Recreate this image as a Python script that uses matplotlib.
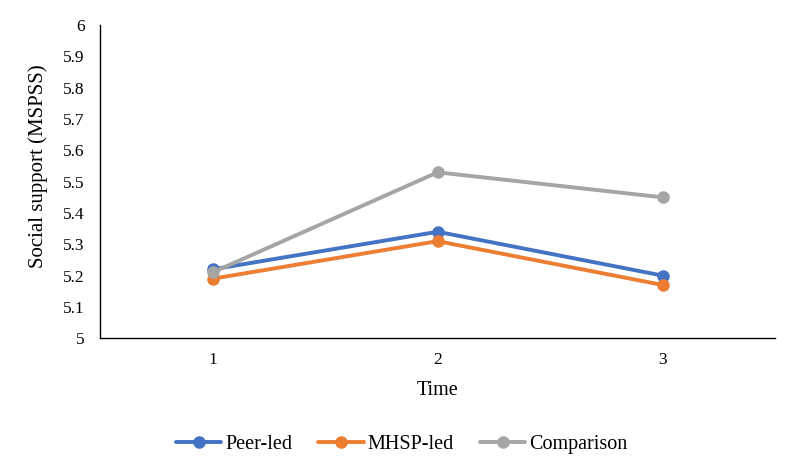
import matplotlib
matplotlib.use("Agg")
import matplotlib.pyplot as plt
import numpy as np

times = [1, 2, 3]
peer_led = [5.22, 5.34, 5.20]
mhsp_led = [5.19, 5.31, 5.17]
comparison = [5.21, 5.53, 5.45]
yticks = [5, 5.1, 5.2, 5.3, 5.4, 5.5, 5.6, 5.7, 5.8, 5.9, 6]
ytick_labels = ["5", "5.1", "5.2", "5.3", "5.4", "5.5", "5.6", "5.7", "5.8", "5.9", "6"]

plt.rcParams["font.family"] = ["Liberation Serif", "DejaVu Serif"]

fig = plt.figure(figsize=(8, 4.75), dpi=100)
ax = fig.add_axes([0.125, 0.288, 0.844, 0.659])

series = [
    ("Peer-led", peer_led, "#4472C4"),
    ("MHSP-led", mhsp_led, "#ED7D31"),
    ("Comparison", comparison, "#A5A5A5"),
]
for name, vals, col in series:
    ax.plot(times, vals, color=col, lw=2.8, marker="o", markersize=8,
            solid_capstyle="round", label=name)

ax.set_xlim(0.5, 3.5)
ax.set_ylim(5, 6)
ax.set_xticks(times)
ax.set_xticklabels([str(t) for t in times])
ax.set_yticks(yticks)
ax.set_yticklabels(ytick_labels)
ax.tick_params(length=0, labelsize=12.5, colors="#000000", pad=11)
ax.tick_params(axis="x", pad=10)

for side in ["top", "right"]:
    ax.spines[side].set_visible(False)
for side in ["left", "bottom"]:
    ax.spines[side].set_color("#000000")
    ax.spines[side].set_linewidth(1.0)

ax.set_xlabel("Time", fontsize=14.5, labelpad=9)
ax.set_ylabel("Social support (MSPSS)", fontsize=15)
ax.yaxis.set_label_coords(-0.077, 0.55)

ax.legend(loc="center", bbox_to_anchor=(0.447, -0.34), ncol=3,
          frameon=False, fontsize=14.5, handlelength=2.25, columnspacing=1.3,
          handletextpad=0.2)

fig.savefig("out.png", dpi=100)
